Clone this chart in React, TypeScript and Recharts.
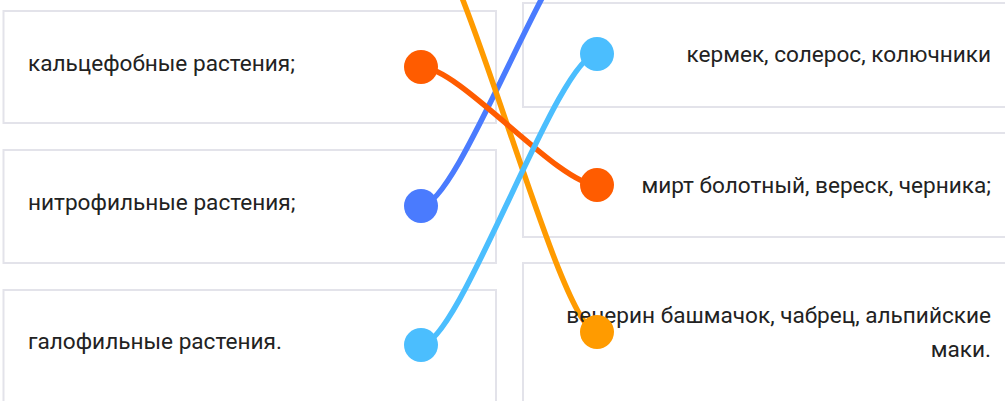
import React from "react";
import { ComposedChart, XAxis, YAxis, Line, Scatter, ReferenceArea } from "recharts";

// ---- data ----
// row 0 on each side lies above the visible crop (only its connecting line shows)
const leftLabels: (string[] | null)[] = [
  null,
  ["кальцефобные растения;"],
  ["нитрофильные растения;"],
  ["галофильные растения."],
];
const rightLabels: (string[] | null)[] = [
  null,
  ["кермек, солерос, колючники"],
  ["мирт болотный, вереск, черника;"],
  ["венерин башмачок, чабрец, альпийские", "маки."],
];
// pairs [left row, right row]
const matches: [number, number][] = [
  [0, 3],
  [1, 2],
  [2, 0],
  [3, 1],
];
const matchColors = ["#FF9B00", "#FF5C00", "#4A7BFE", "#4BBEFE"];

// ---- layout (chart units) ----
const W = 1005;
const H = 401;
const leftRowY = [-72, 67, 206, 345];
const rightRowY = [-77, 54, 185, 332];
const leftBoxes: [number, number][] = [[-60, -20], [11, 123], [150, 263], [290, 403]];
const rightBoxes: [number, number][] = [[-60, -30], [3, 107], [133, 237], [263, 402]];
const LEFT_NODE_X = 421;
const RIGHT_NODE_X = 597;
const LEFT_BOX_X: [number, number] = [3.5, 496];
const RIGHT_BOX_X: [number, number] = [523, 1012];
const LEFT_TEXT_X = 28;
const RIGHT_TEXT_X = 991;
const LINE_GAP = 34;
const FONT_SIZE = 22.6;

// horizontal-handle cubic link curve
const linkCurve = (k: number) => (context: any) => {
  let x0 = 0;
  let y0 = 0;
  let n = 0;
  return {
    areaStart() {},
    areaEnd() {},
    lineStart() {
      n = 0;
    },
    lineEnd() {},
    point(x: number, y: number) {
      x = +x;
      y = +y;
      if (n === 0) context.moveTo(x, y);
      else {
        const c = (x - x0) * k;
        context.bezierCurveTo(x0 + c, y0, x - c, y, x, y);
      }
      x0 = x;
      y0 = y;
      n++;
    },
  };
};
const curve = linkCurve(0.22);

const nodeData = matches.flatMap(([l, r], i) => [
  { x: LEFT_NODE_X, y: leftRowY[l], c: i },
  { x: RIGHT_NODE_X, y: rightRowY[r], c: i },
]);

const textData = [
  ...leftLabels.map((lines, i) =>
    lines ? { x: LEFT_TEXT_X, y: leftRowY[i] + 4, lines, anchor: "start" } : null
  ),
  ...rightLabels.map((lines, i) =>
    lines
      ? {
          x: RIGHT_TEXT_X,
          y: rightRowY[i] + 8 - ((lines.length - 1) * LINE_GAP) / 2,
          lines,
          anchor: "end",
        }
      : null
  ),
].filter(Boolean) as { x: number; y: number; lines: string[]; anchor: string }[];

const boxStyle = {
  fill: "#ffffff",
  fillOpacity: 1,
  stroke: "#e3e3ea",
  strokeWidth: 2,
};

export default function App() {
  return (
    <div style={{ width: W, height: H, background: "#fff" }}>
      <style>{`body{margin:0;}`}</style>
      <ComposedChart width={W} height={H} margin={{ top: 0, right: 0, bottom: 0, left: 0 }}>
        <XAxis type="number" dataKey="x" domain={[0, W]} allowDataOverflow hide />
        <YAxis type="number" dataKey="y" domain={[0, H]} allowDataOverflow reversed hide />
        {leftBoxes.map(([y1, y2], i) => (
          <ReferenceArea
            key={"lb" + i}
            x1={LEFT_BOX_X[0]}
            x2={LEFT_BOX_X[1]}
            y1={y1}
            y2={y2}
            ifOverflow="visible"
            {...boxStyle}
          />
        ))}
        {rightBoxes.map(([y1, y2], i) => (
          <ReferenceArea
            key={"rb" + i}
            x1={RIGHT_BOX_X[0]}
            x2={RIGHT_BOX_X[1]}
            y1={y1}
            y2={y2}
            ifOverflow="visible"
            {...boxStyle}
          />
        ))}
        <Scatter
          data={textData}
          isAnimationActive={false}
          shape={(p: any) => (
            <text
              x={p.cx}
              y={p.cy}
              textAnchor={p.payload.anchor}
              fontFamily="Roboto, 'Noto Sans', sans-serif"
              fontSize={FONT_SIZE}
              fill="#222222"
            >
              {p.payload.lines.map((ln: string, j: number) => (
                <tspan key={j} x={p.cx} dy={j === 0 ? 0 : LINE_GAP}>
                  {ln}
                </tspan>
              ))}
            </text>
          )}
        />
        {[2, 0, 1, 3].map((i) => {
          const [l, r] = matches[i];
          return (
            <Line
              key={"ln" + i}
              data={[
                { x: LEFT_NODE_X, y: leftRowY[l] },
                { x: RIGHT_NODE_X, y: rightRowY[r] },
              ]}
              dataKey="y"
              type={curve as any}
              stroke={matchColors[i]}
              strokeWidth={5.5}
              dot={false}
              activeDot={false}
              isAnimationActive={false}
              strokeLinecap="round"
            />
          );
        })}
        <Scatter
          data={nodeData}
          isAnimationActive={false}
          shape={(p: any) => <circle cx={p.cx} cy={p.cy} r={17} fill={matchColors[p.payload.c]} />}
        />
      </ComposedChart>
    </div>
  );
}
